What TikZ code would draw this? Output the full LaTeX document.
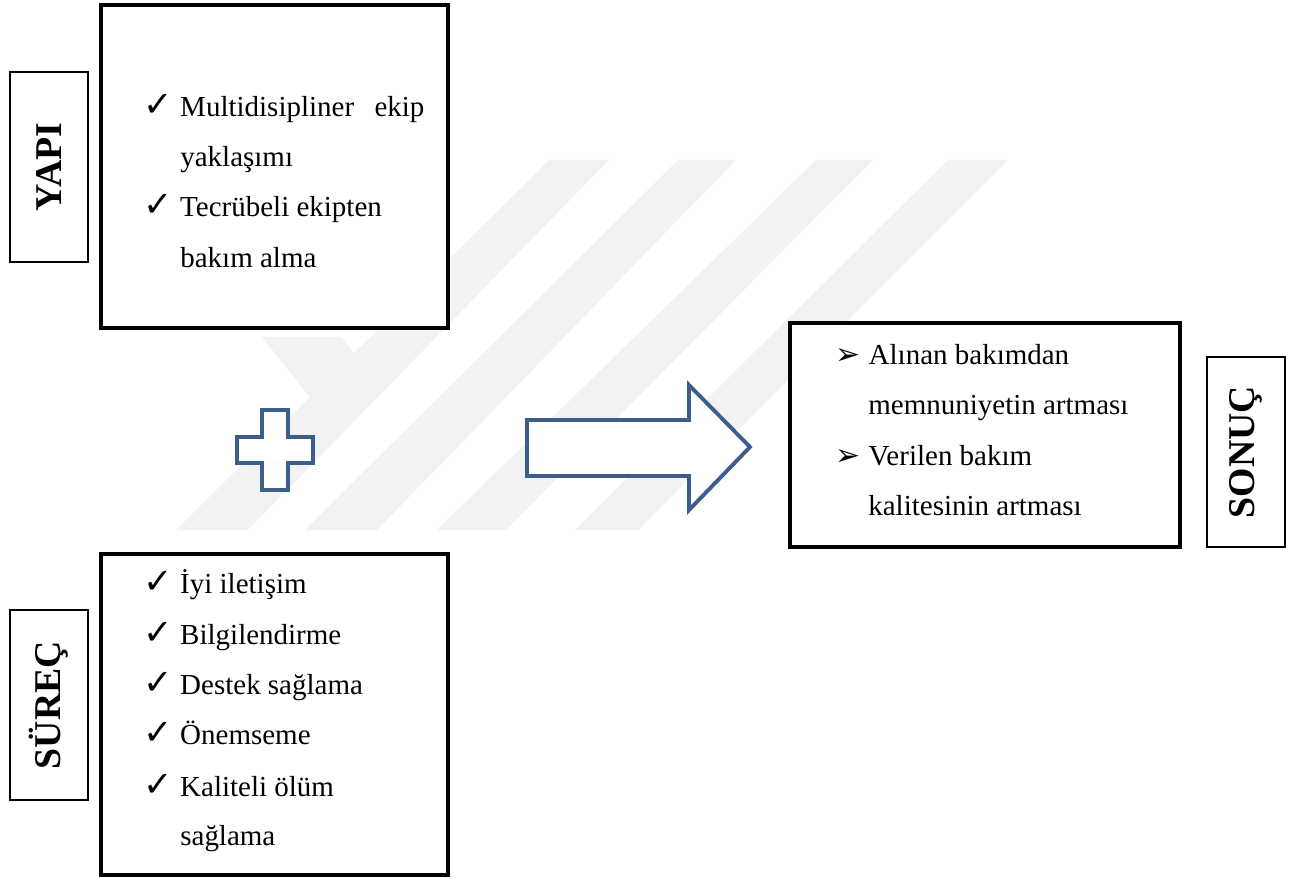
\documentclass[tikz,border=0pt]{standalone}
\usepackage{fontspec}
\setmainfont{Liberation Serif}
\newfontfamily\symfont{DejaVu Sans}
\usetikzlibrary{positioning}
\definecolor{shapeblue}{RGB}{59,94,140}
\definecolor{wmgray}{RGB}{242,242,242}
\newcommand{\chk}{\makebox[21pt][l]{\fontsize{20}{20}\symfont ✓}}
\newcommand{\arrb}{\makebox[19pt][l]{\fontsize{17}{17}\symfont ➢}}
\tikzset{
bigbox/.style={draw,line width=1.8pt,fill=white,inner sep=0pt},
labelbox/.style={draw,line width=.6pt,fill=white,rotate=90,minimum width=3.8cm,minimum height=1.56cm,inner sep=0pt,font=\fontsize{21.5}{25}\selectfont\bfseries},
item/.style={anchor=base west,inner sep=0pt,font=\fontsize{16.5}{20}\selectfont},
outline/.style={draw=shapeblue,line width=2.2pt,fill=white,line join=miter},
watermark/.style={fill=wmgray}
}

\begin{document}
\begin{tikzpicture}[x=0.02cm,y=-0.02cm]
\useasboundingbox (0,0) rectangle (1291,878);

% faint background logo
\fill[watermark] (176,530)--(248,530)--(609,160)--(549,160)--cycle;
\fill[watermark] (305,530)--(377,530)--(736,160)--(678,160)--cycle;
\fill[watermark] (437,530)--(506,530)--(873,160)--(816,160)--cycle;
\fill[watermark] (575,530)--(638,530)--(1008,160)--(948,160)--cycle;
\fill[watermark] (262,337)--(342,337)--(375,385)--(320,410)--cycle;

% boxes
\node[bigbox,minimum width=6.94cm,minimum height=6.46cm] (yapibox) at (274.5,166.5) {};
\node[bigbox,minimum width=6.94cm,minimum height=6.42cm] (surecbox) at (274.5,714.5) {};
\node[bigbox,minimum width=7.8cm,minimum height=4.48cm] (sonucbox) at (985,435) {};

\node[labelbox] (yapi) at (49,167) {YAPI};
\node[labelbox] (surec) at (49,705) {SÜREÇ};
\node[labelbox] (sonuc) at (1246,452) {SONUÇ};

% yapi items
\node[item] (y1) at (143,117) {\chk\makebox[139pt][l]{Multidisipliner\hfill ekip}};
\node[item] (y2) at (180,167) {yaklaşımı};
\node[item] (y3) at (143,217) {\chk Tecrübeli ekipten};
\node[item] (y4) at (180,268) {bakım alma};

% surec items
\node[item] (s1) at (143,593) {\chk İyi iletişim};
\node[item] (s2) at (143,644) {\chk Bilgilendirme};
\node[item] (s3) at (143,694) {\chk Destek sağlama};
\node[item] (s4) at (143,744) {\chk Önemseme};
\node[item] (s5) at (143,796) {\chk Kaliteli ölüm};
\node[item] (s6) at (180,845) {sağlama};

% sonuc items
\node[item] (r1) at (835,364) {\arrb Alınan bakımdan};
\node[item] (r2) at (868,414) {memnuniyetin artması};
\node[item] (r3) at (835,465) {\arrb Verilen bakım};
\node[item] (r4) at (868,515) {kalitesinin artması};

% plus and block arrow
\draw[outline] (262,410)--(288,410)--(288,437)--(313,437)--(313,463)--(288,463)
  --(288,490)--(262,490)--(262,463)--(237,463)--(237,437)--(262,437)--cycle;
\draw[outline] (527,420)--(689,420)--(689,385)--(750,447)--(689,510)--(689,476)--(527,476)--cycle;
\end{tikzpicture}
\end{document}
